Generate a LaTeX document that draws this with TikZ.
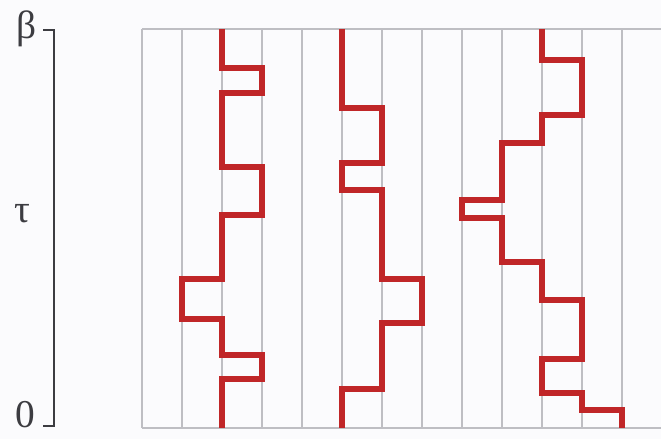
\documentclass[tikz,border=0pt]{standalone}
\usepackage{fontspec}
\usepackage{tikz}
\usetikzlibrary{positioning,calc}
\newfontfamily\timesfont{Liberation Serif}
\definecolor{pathred}{RGB}{192,38,40}
\definecolor{gridgray}{RGB}{190,190,195}
\definecolor{axisgray}{RGB}{60,60,65}

\begin{document}
\begin{tikzpicture}[x=0.025cm,y=-0.025cm,
    gridline/.style={gridgray,line width=0.9pt},
    worldline/.style={pathred,line width=3.6pt},
    timelabel/.style={axisgray,inner sep=1pt,font=\timesfont\fontsize{28}{30}\selectfont}]
        \useasboundingbox[fill={rgb,255:red,251;green,251;blue,253}] (0,0) rectangle (661,439);
        % time axis
        \draw[axisgray,line width=1.4pt] (43,30) -- (54,30) -- (54,426) -- (43,426);
        \node[timelabel] (lbeta) at (27,29) {β};
        \node[timelabel] (ltau) at (22,214) {τ};
        \node[timelabel] (lzero) at (25,415) {0};
        % lattice sites
        \foreach \k in {0,...,13}
          \draw[gridline] (142+40*\k,29) -- (142+40*\k,428);
        \draw[gridline] (142,29) -- (662,29);
        \draw[gridline] (142,428) -- (662,428);
        % world lines
        \draw[worldline] (222,29) |- (262,68) |- (222,93) |- (262,167) |- (222,215)
          |- (182,279) |- (222,319) |- (262,355) |- (222,379) -- (222,428);
        \draw[worldline] (342,29) |- (382,108) |- (342,163) |- (382,190) |- (422,279)
          |- (382,323) |- (342,389) -- (342,428);
        \draw[worldline] (542,29) |- (582,60) |- (542,115) |- (502,143) |- (462,200)
          |- (502,218) |- (542,262) |- (582,300) |- (542,359) |- (582,393)
          |- (622,410) -- (622,428);
      \end{tikzpicture}
\end{document}
